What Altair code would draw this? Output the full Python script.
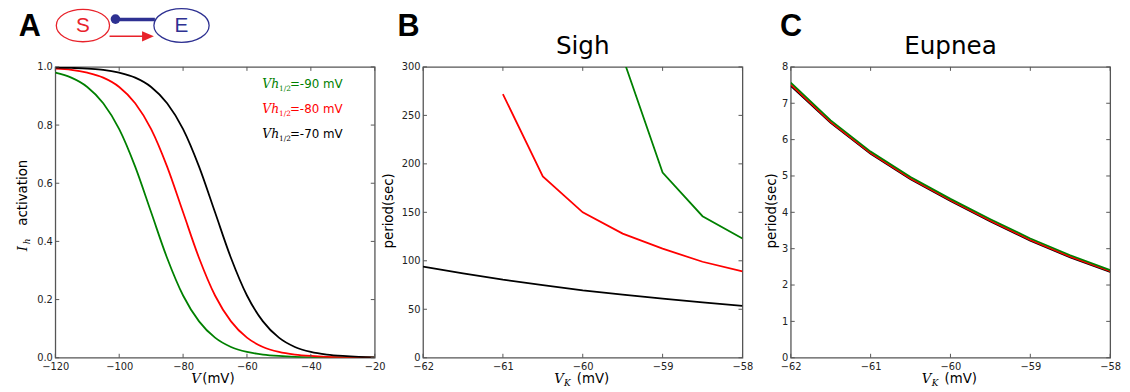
import altair as alt
import pandas as pd

# ---------------- data ----------------
# Panel A: Ih activation curves
A_V = [-120, -115, -110, -105, -100, -95, -90, -85, -80, -75, -70,
       -65, -60, -55, -50, -45, -40, -35, -30, -25, -20]
A_green = [0.980, 0.963, 0.931, 0.875, 0.786, 0.657, 0.500, 0.343, 0.214, 0.125, 0.069,
           0.037, 0.020, 0.011, 0.006, 0.003, 0.0015, 0.0008, 0.0004, 0.0002, 0.0001]
A_red = [0.994, 0.990, 0.980, 0.963, 0.931, 0.875, 0.786, 0.657, 0.500, 0.343, 0.214,
         0.125, 0.069, 0.037, 0.020, 0.011, 0.006, 0.003, 0.0015, 0.0008, 0.0004]
A_black = [0.998, 0.997, 0.994, 0.990, 0.980, 0.963, 0.931, 0.875, 0.786, 0.657, 0.500,
           0.343, 0.214, 0.125, 0.069, 0.037, 0.020, 0.011, 0.006, 0.003, 0.0015]
A_xticks = [-120, -100, -80, -60, -40, -20]
A_yticks = [0.0, 0.2, 0.4, 0.6, 0.8, 1.0]
A_legend = ["=-90 mV", "=-80 mV", "=-70 mV"]

# Panel B: Sigh period
B_VK_black = [-62, -61.5, -61, -60.5, -60, -59.5, -59, -58.5, -58]
B_black = [94, 87, 80.5, 75, 69.5, 65, 61, 57, 53.5]
B_VK_red = [-61, -60.5, -60, -59.5, -59, -58.5, -58]
B_red = [272, 187, 150, 128, 112.5, 99, 89]
B_VK_green = [-59.5, -59, -58.5, -58]
B_green = [310, 191, 146, 123]
B_xticks = [-62, -61, -60, -59, -58]
B_yticks = [0, 50, 100, 150, 200, 250, 300]

# Panel C: Eupnea period
C_VK = [-62, -61.5, -61, -60.5, -60, -59.5, -59, -58.5, -58]
C_black = [7.48, 6.46, 5.61, 4.91, 4.31, 3.75, 3.22, 2.76, 2.36]
C_red = [7.51, 6.48, 5.63, 4.93, 4.33, 3.77, 3.24, 2.78, 2.38]
C_green = [7.57, 6.53, 5.67, 4.97, 4.37, 3.81, 3.28, 2.82, 2.41]
C_xticks = [-62, -61, -60, -59, -58]
C_yticks = [0, 1, 2, 3, 4, 5, 6, 7, 8]

W, H = 324, 295
GREEN, RED, BLACK = "#008000", "#ff0000", "#000000"
FRAME = "#555555"
SANS = "DejaVu Sans"
SERIF = "DejaVu Serif"
MINUS = "replace(datum.label, '-', '\u2212')"


def xaxis(vals, fmt="d"):
    return alt.Axis(values=vals, format=fmt, title=None, labelExpr=MINUS,
                    labelFlush=False, labelOverlap=False, labelPadding=4)


def yaxis(vals, fmt="d"):
    return alt.Axis(values=vals, format=fmt, title=None,
                    labelFlush=False, labelOverlap=False, labelPadding=3)


def line(xs, ys, color, xs_, ys_, xa, ya, interp="linear"):
    d = pd.DataFrame({"x": xs, "y": ys})
    return alt.Chart(d).mark_line(color=color, strokeWidth=1.8, interpolate=interp,
                                  clip=True).encode(
        x=alt.X("x:Q", scale=xs_, axis=xa),
        y=alt.Y("y:Q", scale=ys_, axis=ya))


def inner_ticks(xt, yt, xs_, ys_, xa, ya):
    L = 4
    dx = pd.DataFrame({"x": xt})
    dy = pd.DataFrame({"y": yt})
    out = []
    for (a, b) in [(H, H - L), (0, L)]:
        out.append(alt.Chart(dx).mark_rule(color=FRAME, strokeWidth=1).encode(
            x=alt.X("x:Q", scale=xs_, axis=xa), y=alt.value(a), y2=alt.value(b)))
    for (a, b) in [(0, L), (W, W - L)]:
        out.append(alt.Chart(dy).mark_rule(color=FRAME, strokeWidth=1).encode(
            y=alt.Y("y:Q", scale=ys_, axis=ya), x=alt.value(a), x2=alt.value(b)))
    return out


def txt(s, x, y, size, color="black", font=SANS, style="normal", weight="normal",
        align="left", baseline="alphabetic", angle=0):
    d = pd.DataFrame({"s": [s]})
    return alt.Chart(d).mark_text(align=align, baseline=baseline, fontSize=size, font=font,
                                  fontStyle=style, fontWeight=weight, color=color,
                                  angle=angle).encode(
        x=alt.value(x), y=alt.value(y), text="s:N")


def xtitle_vk(size=13.5):
    return [txt("V", 133, 321, size, font=SERIF, style="italic"),
            txt("K", 143, 324, 9, font=SERIF, style="italic"),
            txt("(mV)", 156, 321, size)]


# ---------------- Panel A ----------------
axs = alt.Scale(domain=[-120, -20], nice=False, zero=False)
ays = alt.Scale(domain=[0, 1], nice=False, zero=False)
xa_A = xaxis(A_xticks)
ya_A = yaxis(A_yticks, ".1f")

one = pd.DataFrame({"k": [0]})
ELLIPSE = "M -1 0 A 1 0.61 0 1 1 1 0 A 1 0.61 0 1 1 -1 0 Z"
SRED, SBLUE = "#e8222a", "#2e3192"

schem = [
    alt.Chart(one).mark_point(shape=ELLIPSE, size=2916, filled=False, color=SRED,
                              strokeWidth=1.3, opacity=1).encode(
        x=alt.value(28), y=alt.value(-42)),
    alt.Chart(one).mark_point(shape=ELLIPSE, size=3136, filled=False, color=SBLUE,
                              strokeWidth=1.3, opacity=1).encode(
        x=alt.value(128), y=alt.value(-42)),
    alt.Chart(one).mark_rule(color=SBLUE, strokeWidth=3.5).encode(
        x=alt.value(61), x2=alt.value(101), y=alt.value(-48)),
    alt.Chart(one).mark_point(shape="circle", size=95, filled=True, color=SBLUE,
                              opacity=1).encode(x=alt.value(61), y=alt.value(-48.5)),
    alt.Chart(one).mark_rule(color=SRED, strokeWidth=1.5).encode(
        x=alt.value(55), x2=alt.value(90), y=alt.value(-31)),
    alt.Chart(one).mark_point(shape="M -1 -0.85 L 1 0 L -1 0.85 Z", size=144, filled=True,
                              color=SRED, opacity=1).encode(x=alt.value(94), y=alt.value(-31)),
    txt("S", 28, -41, 21, color=SRED, font="Liberation Sans", align="center",
        baseline="middle"),
    txt("E", 128, -41, 21, color=SBLUE, font="Liberation Sans", align="center",
        baseline="middle"),
]

legend = []
for lab, col, yb in zip(A_legend, [GREEN, RED, BLACK], [21, 47, 72]):
    legend += [txt("Vh", 210, yb, 12.5, color=col, font=SERIF, style="italic"),
               txt("1/2", 227, yb + 3, 7.5, color=col, font=SERIF),
               txt(lab, 238, yb, 12, color=col)]

panelA = alt.layer(
    line(A_V, A_green, GREEN, axs, ays, xa_A, ya_A, "monotone"),
    line(A_V, A_red, RED, axs, ays, xa_A, ya_A, "monotone"),
    line(A_V, A_black, BLACK, axs, ays, xa_A, ya_A, "monotone"),
    *inner_ticks(A_xticks, A_yticks, axs, ays, xa_A, ya_A),
    *legend,
    *schem,
    txt("A", -37, -31, 31, font="Liberation Sans", weight="bold"),
    txt("I", -29, 187, 13.5, font=SERIF, style="italic", angle=270),
    txt("h", -26, 180, 9, font=SERIF, style="italic", angle=270),
    txt("activation", -29, 161, 13.5, angle=270),
    txt("V", 138, 321, 13.5, font=SERIF, style="italic"),
    txt("(mV)", 149, 321, 13.5),
).properties(width=W, height=H)

# ---------------- Panel B ----------------
bxs = alt.Scale(domain=[-62, -58], nice=False, zero=False)
bys = alt.Scale(domain=[0, 300], nice=False, zero=False)
xa_B = xaxis(B_xticks)
ya_B = yaxis(B_yticks)
panelB = alt.layer(
    line(B_VK_black, B_black, BLACK, bxs, bys, xa_B, ya_B),
    line(B_VK_red, B_red, RED, bxs, bys, xa_B, ya_B),
    line(B_VK_green, B_green, GREEN, bxs, bys, xa_B, ya_B),
    *inner_ticks(B_xticks, B_yticks, bxs, bys, xa_B, ya_B),
    txt("B", -26, -31, 31, font="Liberation Sans", weight="bold"),
    txt("Sigh", W / 2, -13, 25, align="center"),
    txt("period(sec)", -30, 146, 13.5, angle=270, align="center"),
    *xtitle_vk(),
).properties(width=W, height=H)

# ---------------- Panel C ----------------
cxs = alt.Scale(domain=[-62, -58], nice=False, zero=False)
cys = alt.Scale(domain=[0, 8], nice=False, zero=False)
xa_C = xaxis(C_xticks)
ya_C = yaxis(C_yticks)
panelC = alt.layer(
    line(C_VK, C_black, BLACK, cxs, cys, xa_C, ya_C),
    line(C_VK, C_red, RED, cxs, cys, xa_C, ya_C),
    line(C_VK, C_green, GREEN, cxs, cys, xa_C, ya_C),
    *inner_ticks(C_xticks, C_yticks, cxs, cys, xa_C, ya_C),
    txt("C", -11, -31, 31, font="Liberation Sans", weight="bold"),
    txt("Eupnea", W / 2, -13, 25, align="center"),
    txt("period(sec)", -15, 146, 13.5, angle=270, align="center"),
    *xtitle_vk(),
).properties(width=W, height=H)

chart = alt.hconcat(panelA, panelB, panelC, spacing=49, bounds="flush").properties(
    padding={"left": 7, "top": -6, "right": 0, "bottom": 0}
).configure_view(
    stroke=FRAME, strokeWidth=1.3
).configure_axis(
    domain=False, ticks=False, grid=False, labelFont=SANS, labelFontSize=10,
    labelColor="#222222"
)

chart.save("out.html", embed_options={"renderer": "svg", "actions": False})
